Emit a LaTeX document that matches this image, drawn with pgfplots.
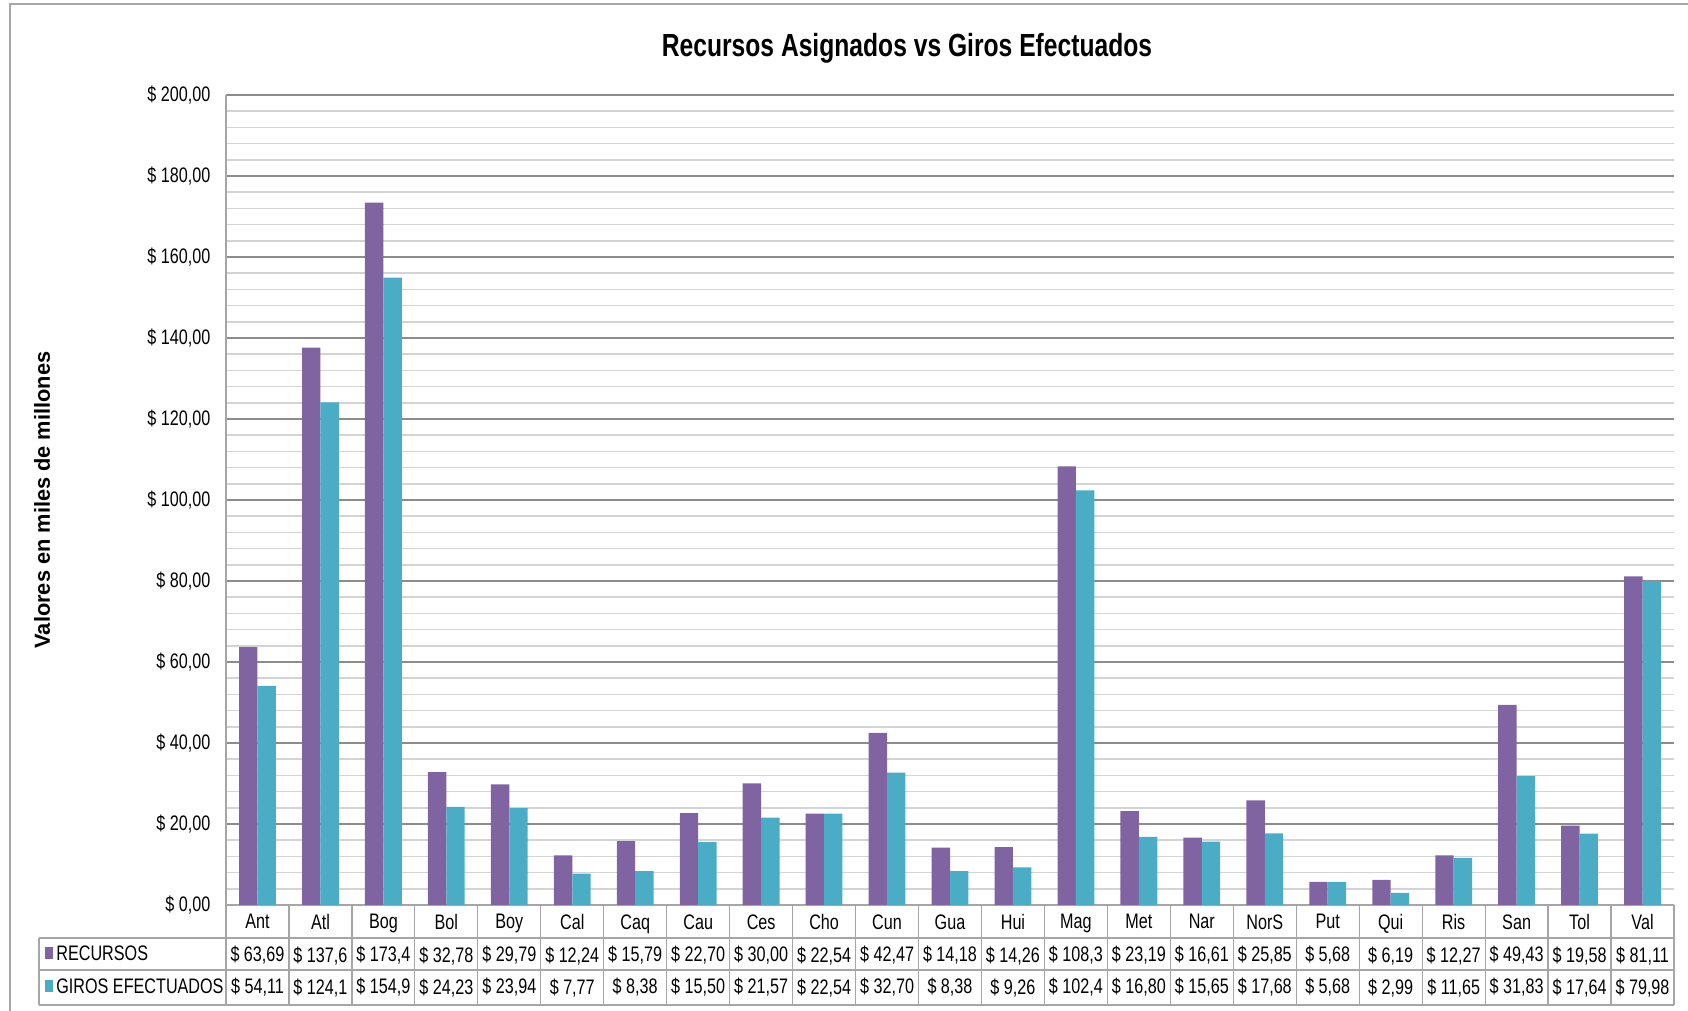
\documentclass[border=0pt]{standalone}
\usepackage{fontspec}
\setmainfont{Liberation Sans}[FakeStretch=0.77]
\newfontfamily\ylfont{Liberation Sans}
\usepackage{pgfplots}
\pgfplotsset{compat=1.18}
\definecolor{recC}{HTML}{8064A2}
\definecolor{girC}{HTML}{4BACC6}
\definecolor{gridmaj}{HTML}{8C8C8C}
\definecolor{gridmin}{HTML}{D4D4D4}
\definecolor{tabline}{HTML}{A6A6A6}
\begin{document}
\begin{tikzpicture}
\useasboundingbox (0,0) rectangle (844pt,505.5pt);
\draw[gray!70, line width=1pt] (5pt,0) -- (5pt,503.5pt) -- (844pt,503.5pt);
\begin{axis}[
  at={(113pt,53pt)}, anchor=south west,
  scale only axis, width=724pt, height=405pt,
  xmin=-0.5, xmax=22.5, ymin=0, ymax=200,
  ybar=0pt, bar width=9.2pt,
  axis lines=left, axis line style={-, tabline, line width=0.6pt},
  tick style={draw=none},
  ytick={0,20,...,200}, minor y tick num=4,
  ymajorgrids, yminorgrids,
  major grid style={gridmaj, line width=0.6pt},
  minor grid style={gridmin, line width=0.8pt},
  /pgf/number format/assume math mode=true,
  yticklabel={\$ \pgfmathprintnumber[fixed, fixed zerofill, precision=2, use comma, 1000 sep={}]{\tick}},
  yticklabel style={anchor=east, inner sep=0pt, xshift=-5.5pt, font=\fontsize{10.5}{12}\selectfont},
  xtick={0,...,22},
  xticklabel style={font=\fontsize{10.5}{16.2}\selectfont, align=center, anchor=north, inner sep=0pt, yshift=-2.4pt},
  xticklabels={
    {Ant\\\$ 63,69\\\$ 54,11},
    {Atl\\\$ 137,6\\\$ 124,1},
    {Bog\\\$ 173,4\\\$ 154,9},
    {Bol\\\$ 32,78\\\$ 24,23},
    {Boy\\\$ 29,79\\\$ 23,94},
    {Cal\\\$ 12,24\\\$ 7,77},
    {Caq\\\$ 15,79\\\$ 8,38},
    {Cau\\\$ 22,70\\\$ 15,50},
    {Ces\\\$ 30,00\\\$ 21,57},
    {Cho\\\$ 22,54\\\$ 22,54},
    {Cun\\\$ 42,47\\\$ 32,70},
    {Gua\\\$ 14,18\\\$ 8,38},
    {Hui\\\$ 14,26\\\$ 9,26},
    {Mag\\\$ 108,3\\\$ 102,4},
    {Met\\\$ 23,19\\\$ 16,80},
    {Nar\\\$ 16,61\\\$ 15,65},
    {NorS\\\$ 25,85\\\$ 17,68},
    {Put\\\$ 5,68\\\$ 5,68},
    {Qui\\\$ 6,19\\\$ 2,99},
    {Ris\\\$ 12,27\\\$ 11,65},
    {San\\\$ 49,43\\\$ 31,83},
    {Tol\\\$ 19,58\\\$ 17,64},
    {Val\\\$ 81,11\\\$ 79,98}},
]
\addplot[fill=recC, draw=none] coordinates {
  (0,63.69) (1,137.6) (2,173.4) (3,32.78) (4,29.79) (5,12.24) (6,15.79) (7,22.70)
  (8,30.00) (9,22.54) (10,42.47) (11,14.18) (12,14.26) (13,108.3) (14,23.19)
  (15,16.61) (16,25.85) (17,5.68) (18,6.19) (19,12.27) (20,49.43) (21,19.58) (22,81.11)};
\addplot[fill=girC, draw=none] coordinates {
  (0,54.11) (1,124.1) (2,154.9) (3,24.23) (4,23.94) (5,7.77) (6,8.38) (7,15.50)
  (8,21.57) (9,22.54) (10,32.70) (11,8.38) (12,9.26) (13,102.4) (14,16.80)
  (15,15.65) (16,17.68) (17,5.68) (18,2.99) (19,11.65) (20,31.83) (21,17.64) (22,79.98)};
\end{axis}
\node[font=\fontsize{16}{19}\selectfont\bfseries] at (453.5pt,481.5pt) {Recursos Asignados vs Giros Efectuados};
\node[rotate=90, font=\ylfont\fontsize{10.9}{13}\selectfont\bfseries] at (21pt,255.5pt) {Valores en miles de millones};
\draw[tabline, line width=0.6pt] (19.5pt,36.5pt) -- (837pt,36.5pt)
  (19.5pt,20.5pt) -- (837pt,20.5pt)
  (19.5pt,3pt) -- (837pt,3pt)
  (19.5pt,3pt) -- (19.5pt,36.5pt);
\foreach \k in {0,...,23} \draw[tabline, line width=0.6pt] ({113pt+\k*31.478pt},53pt) -- ++(0,-50pt);
\fill[recC] (22.5pt,26pt) rectangle (26.5pt,32pt);
\node[anchor=west, inner sep=0pt, font=\fontsize{10.5}{12}\selectfont] at (28pt,29pt) {RECURSOS};
\fill[girC] (22.5pt,9.25pt) rectangle (26.5pt,15.25pt);
\node[anchor=west, inner sep=0pt, font=\fontsize{10.5}{12}\selectfont] at (28pt,12.25pt) {GIROS EFECTUADOS};
\end{tikzpicture}
\end{document}
